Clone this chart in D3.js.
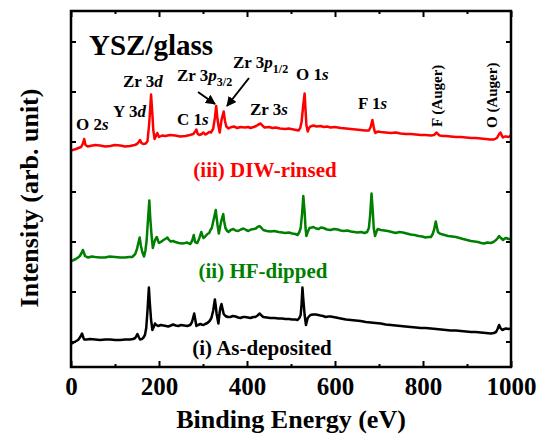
<!DOCTYPE html>
<html><head><meta charset="utf-8">
<script src="https://cdn.jsdelivr.net/npm/d3@7"></script>
<style>
html,body{margin:0;padding:0;background:#fff;}
svg text{font-family:"Liberation Serif",Tinos,"Times New Roman",Times,"DejaVu Serif",serif !important;font-weight:bold;}
</style></head>
<body><svg id="chart" width="541" height="446"></svg>
<script>
// ---- data ----
const xMajorTicks = [0, 200, 400, 600, 800, 1000];
const xMinorTicks = [100, 300, 500, 700, 900];
const yTicks = [0.51, 1.51, 2.51, 3.51, 4.51, 5.51, 6.51];

const energyRed = [0,11,23,27,30,33,38,43,55,66,78,89,100,112,123,134,145,150,154,157,160,164,170,174,178,182,185,187,190,193,196,200,207,214,225,237,248,260,270,278,283,285,288,292,297,301,305,308,311,314,318,323,327,330,333,336,338,342,347,350,353,358,362,370,378,385,395,403,408,415,421,426,431,436,440,450,458,465,475,487,495,506,512,517,521,524,528,531,533,535,538,541,544,551,558,567,575,582,590,600,613,625,636,647,658,668,677,681,685,688,690,692,697,704,715,727,738,749,760,772,784,795,806,818,825,831,835,838,845,852,863,875,886,898,909,920,931,943,952,961,968,973,976,979,982,986,989,994,1000];
const intensityRed = [4.33,4.36,4.40,4.47,4.56,4.44,4.41,4.42,4.44,4.43,4.41,4.42,4.44,4.43,4.41,4.42,4.44,4.46,4.50,4.54,4.48,4.46,4.47,4.52,4.90,5.45,5.05,4.74,4.56,4.62,4.68,4.60,4.63,4.62,4.64,4.63,4.61,4.62,4.64,4.66,4.72,4.75,4.66,4.64,4.66,4.69,4.65,4.66,4.68,4.70,4.69,4.76,4.98,5.22,4.95,4.78,4.69,4.94,5.11,4.92,4.81,4.77,4.79,4.81,4.78,4.80,4.79,4.80,4.78,4.80,4.82,4.85,4.87,4.82,4.79,4.80,4.78,4.79,4.77,4.76,4.77,4.75,4.74,4.73,4.78,4.90,5.25,5.47,5.15,4.84,4.71,4.78,4.81,4.83,4.81,4.82,4.80,4.81,4.79,4.80,4.78,4.77,4.76,4.75,4.74,4.73,4.73,4.80,4.94,4.80,4.72,4.68,4.71,4.70,4.69,4.68,4.69,4.67,4.66,4.66,4.65,4.64,4.64,4.63,4.64,4.69,4.65,4.63,4.62,4.62,4.61,4.60,4.60,4.59,4.58,4.58,4.57,4.56,4.55,4.55,4.58,4.66,4.69,4.63,4.59,4.61,4.61,4.60,4.63];

const energyGreen = [0,6,11,16,20,24,27,30,32,36,39,47,55,66,77,88,100,112,123,131,139,146,150,153,156,159,162,166,169,172,175,178,180,183,186,189,191,195,198,200,204,207,212,216,219,222,226,232,237,245,253,259,264,268,271,275,279,282,287,291,296,299,301,305,310,314,317,320,323,326,329,331,333,336,338,341,344,346,348,351,355,358,363,369,374,380,386,392,398,403,409,415,420,424,428,432,437,445,453,462,472,480,487,495,503,510,515,519,522,525,528,531,533,535,538,542,547,551,557,563,568,574,582,590,598,606,613,620,628,636,644,651,659,667,673,677,680,683,686,688,691,694,697,704,712,720,729,738,746,754,763,772,781,790,798,806,812,818,822,825,829,832,834,838,841,849,857,866,875,883,891,900,909,917,925,932,939,946,954,960,966,970,973,977,982,986,989,994,1000];
const intensityGreen = [2.11,2.14,2.16,2.19,2.22,2.28,2.34,2.27,2.22,2.20,2.19,2.21,2.20,2.19,2.19,2.21,2.20,2.19,2.19,2.20,2.20,2.26,2.36,2.48,2.59,2.42,2.30,2.21,2.32,2.54,2.95,3.33,3.00,2.64,2.38,2.48,2.54,2.60,2.52,2.48,2.50,2.52,2.55,2.57,2.59,2.55,2.51,2.52,2.50,2.48,2.47,2.48,2.49,2.47,2.46,2.52,2.64,2.50,2.48,2.56,2.70,2.62,2.58,2.61,2.66,2.68,2.74,2.78,2.90,3.02,3.14,2.98,2.84,2.67,2.76,2.90,3.00,3.06,2.92,2.78,2.72,2.70,2.74,2.76,2.73,2.72,2.75,2.77,2.74,2.72,2.75,2.76,2.77,2.80,2.82,2.79,2.74,2.72,2.71,2.72,2.70,2.69,2.68,2.69,2.67,2.66,2.64,2.70,2.78,3.05,3.42,3.10,2.78,2.62,2.70,2.78,2.79,2.80,2.77,2.76,2.79,2.78,2.75,2.74,2.76,2.75,2.73,2.72,2.73,2.71,2.70,2.69,2.70,2.68,2.70,2.78,3.05,3.47,3.10,2.78,2.62,2.70,2.76,2.74,2.73,2.72,2.70,2.68,2.70,2.69,2.67,2.65,2.64,2.62,2.61,2.59,2.60,2.60,2.66,2.74,2.91,2.78,2.70,2.67,2.66,2.64,2.62,2.61,2.60,2.58,2.56,2.54,2.52,2.51,2.50,2.48,2.47,2.49,2.48,2.50,2.54,2.58,2.62,2.58,2.54,2.57,2.58,2.56,2.56];

const energyBlack = [0,8,16,21,25,28,30,36,43,55,66,78,89,100,112,123,134,141,146,151,154,157,161,164,168,171,174,177,179,182,185,188,191,194,198,204,210,216,221,227,232,238,244,250,257,264,271,275,280,283,285,289,294,297,301,305,310,315,319,323,327,329,331,335,338,340,342,345,347,351,356,362,368,374,380,385,391,396,402,408,414,419,424,429,433,437,445,453,462,472,480,487,495,503,510,515,519,522,524,526,528,531,534,538,544,550,556,562,567,573,579,585,590,602,613,625,636,647,658,670,681,692,704,715,727,738,749,760,772,784,795,806,818,830,841,852,863,875,886,898,909,920,931,943,954,961,966,970,973,976,980,985,989,994,1000];
const intensityBlack = [0.46,0.50,0.54,0.60,0.67,0.59,0.55,0.55,0.56,0.55,0.54,0.55,0.55,0.54,0.54,0.55,0.55,0.56,0.58,0.66,0.60,0.55,0.56,0.58,0.64,0.78,1.15,1.59,1.30,0.94,0.74,0.80,0.87,0.84,0.82,0.84,0.83,0.82,0.81,0.83,0.85,0.83,0.82,0.84,0.83,0.82,0.84,0.90,1.07,0.92,0.82,0.84,0.86,0.85,0.84,0.86,0.88,0.92,0.98,1.12,1.35,1.22,1.06,0.87,1.10,1.20,1.26,1.14,1.06,1.02,1.00,1.00,1.02,1.01,0.99,0.98,1.00,1.00,0.99,0.98,1.00,1.00,1.03,1.07,1.03,1.00,0.99,0.98,0.98,0.97,0.97,0.96,0.96,0.95,0.95,0.94,0.98,1.04,1.25,1.59,1.35,1.04,0.84,0.98,1.04,1.05,1.05,1.04,1.03,1.02,1.00,1.01,1.01,0.99,0.97,0.95,0.94,0.93,0.92,0.90,0.89,0.88,0.87,0.85,0.84,0.83,0.82,0.81,0.80,0.79,0.78,0.78,0.77,0.76,0.75,0.74,0.73,0.73,0.72,0.71,0.70,0.70,0.69,0.68,0.67,0.68,0.70,0.77,0.84,0.78,0.74,0.76,0.77,0.76,0.77];

const seriesNames = ["(iii) DIW-rinsed", "(ii) HF-dipped", "(i) As-deposited"];
const seriesColors = ["#ff0000", "#008000", "#000000"];

// ---- layout ----
const svg = d3.select("#chart");
const m = {left: 71, top: 11, right: 30, bottom: 79};
const W = 541 - m.left - m.right, H = 446 - m.top - m.bottom;
const x = d3.scaleLinear().domain([0, 1000]).range([0, W]);
const y = d3.scaleLinear().domain([0, 7.12]).range([H, 0]);
const g = svg.append("g").attr("transform", `translate(${m.left},${m.top})`);

svg.append("defs").append("clipPath").attr("id", "clip")
  .append("rect").attr("width", W).attr("height", H);

const line = d3.line().x(d => x(d[0])).y(d => y(d[1]));
const series = [
  d3.zip(energyRed, intensityRed),
  d3.zip(energyGreen, intensityGreen),
  d3.zip(energyBlack, intensityBlack)
];
const plot = g.append("g").attr("clip-path", "url(#clip)");
series.forEach((s, i) => {
  plot.append("path").datum(s).attr("d", line)
    .attr("fill", "none").attr("stroke", seriesColors[i])
    .attr("stroke-width", 2.5).attr("stroke-linejoin", "round");
});

// ---- axes (ticks inward on all four sides) ----
function styleAxis(sel) {
  sel.attr("font-family", null);
  sel.select(".domain").remove();
  sel.selectAll(".tick line").attr("stroke", "#000").attr("stroke-width", 2);
}
const bottomMajor = g.append("g").attr("transform", `translate(0,${H})`)
  .call(d3.axisBottom(x).tickValues(xMajorTicks).tickSizeInner(-6).tickSizeOuter(0).tickPadding(10).tickFormat(d3.format("d")));
styleAxis(bottomMajor);
bottomMajor.selectAll(".tick text").attr("font-size", 25).attr("fill", "#000").attr("dy", "0.71em");
const bottomMinor = g.append("g").attr("transform", `translate(0,${H})`)
  .call(d3.axisBottom(x).tickValues(xMinorTicks).tickSizeInner(-3).tickSizeOuter(0).tickFormat(""));
styleAxis(bottomMinor);
const topMajor = g.append("g")
  .call(d3.axisTop(x).tickValues(xMajorTicks).tickSizeInner(-6).tickSizeOuter(0).tickFormat(""));
styleAxis(topMajor);
const topMinor = g.append("g")
  .call(d3.axisTop(x).tickValues(xMinorTicks).tickSizeInner(-3).tickSizeOuter(0).tickFormat(""));
styleAxis(topMinor);
const leftAx = g.append("g")
  .call(d3.axisLeft(y).tickValues(yTicks).tickSizeInner(-5).tickSizeOuter(0).tickFormat(""));
styleAxis(leftAx);
const rightAx = g.append("g").attr("transform", `translate(${W},0)`)
  .call(d3.axisRight(y).tickValues(yTicks).tickSizeInner(-5).tickSizeOuter(0).tickFormat(""));
styleAxis(rightAx);

g.append("rect").attr("width", W).attr("height", H)
  .attr("fill", "none").attr("stroke", "#000").attr("stroke-width", 2.5);

// ---- axis titles ----
svg.append("text").attr("x", m.left + W / 2).attr("y", 428)
  .attr("text-anchor", "middle").attr("font-size", 26).text("Binding Energy (eV)");
svg.append("text").attr("transform", "translate(38,198) rotate(-90)")
  .attr("text-anchor", "middle").attr("font-size", 26).text("Intensity (arb. unit)");

// ---- annotations ----
svg.append("text").attr("x", 89).attr("y", 55).attr("font-size", 29).text("YSZ/glass");

function label(px, py, parts, size) {
  const t = svg.append("text").attr("x", px).attr("y", py).attr("font-size", size || 17);
  parts.forEach(p => {
    const ts = t.append("tspan").text(p[0]);
    if (p[1] === "i") ts.attr("font-style", "italic");
    if (p[1] === "sub") ts.attr("font-size", 12).attr("baseline-shift", "-5");
  });
  return t;
}
label(76, 130, [["O 2"], ["s", "i"]]);
label(113, 117, [["Y 3"], ["d", "i"]]);
label(123, 87, [["Zr 3"], ["d", "i"]]);
label(177, 125, [["C 1"], ["s", "i"]]);
label(177, 81, [["Zr 3"], ["p", "i"], ["3/2", "sub"]]);
label(233, 68, [["Zr 3"], ["p", "i"], ["1/2", "sub"]]);
label(250, 115, [["Zr 3"], ["s", "i"]]);
label(296, 80, [["O 1"], ["s", "i"]]);
label(358, 109, [["F 1"], ["s", "i"]]);

svg.append("text").attr("transform", "translate(442,127) rotate(-90)")
  .attr("font-size", 15).text("F (Auger)");
svg.append("text").attr("transform", "translate(497,128) rotate(-90)")
  .attr("font-size", 15).text("O (Auger)");

// arrows
const defs = svg.select("defs");
defs.append("marker").attr("id", "arr").attr("viewBox", "0 0 10 10")
  .attr("refX", 9).attr("refY", 5).attr("markerWidth", 5).attr("markerHeight", 5)
  .attr("orient", "auto").append("path").attr("d", "M0,0 L10,5 L0,10 Z").attr("fill", "#000");
[[198, 92, 215, 104], [249, 78, 227, 106]].forEach(a => {
  svg.append("line").attr("x1", a[0]).attr("y1", a[1]).attr("x2", a[2]).attr("y2", a[3])
    .attr("stroke", "#000").attr("stroke-width", 2).attr("marker-end", "url(#arr)");
});

// series labels
const legendPos = [[265, 177], [263, 278], [262, 355]];
seriesNames.forEach((n, i) => {
  svg.append("text").attr("x", legendPos[i][0]).attr("y", legendPos[i][1])
    .attr("text-anchor", "middle").attr("font-size", 21)
    .attr("fill", seriesColors[i]).text(n);
});
</script>
</body></html>
